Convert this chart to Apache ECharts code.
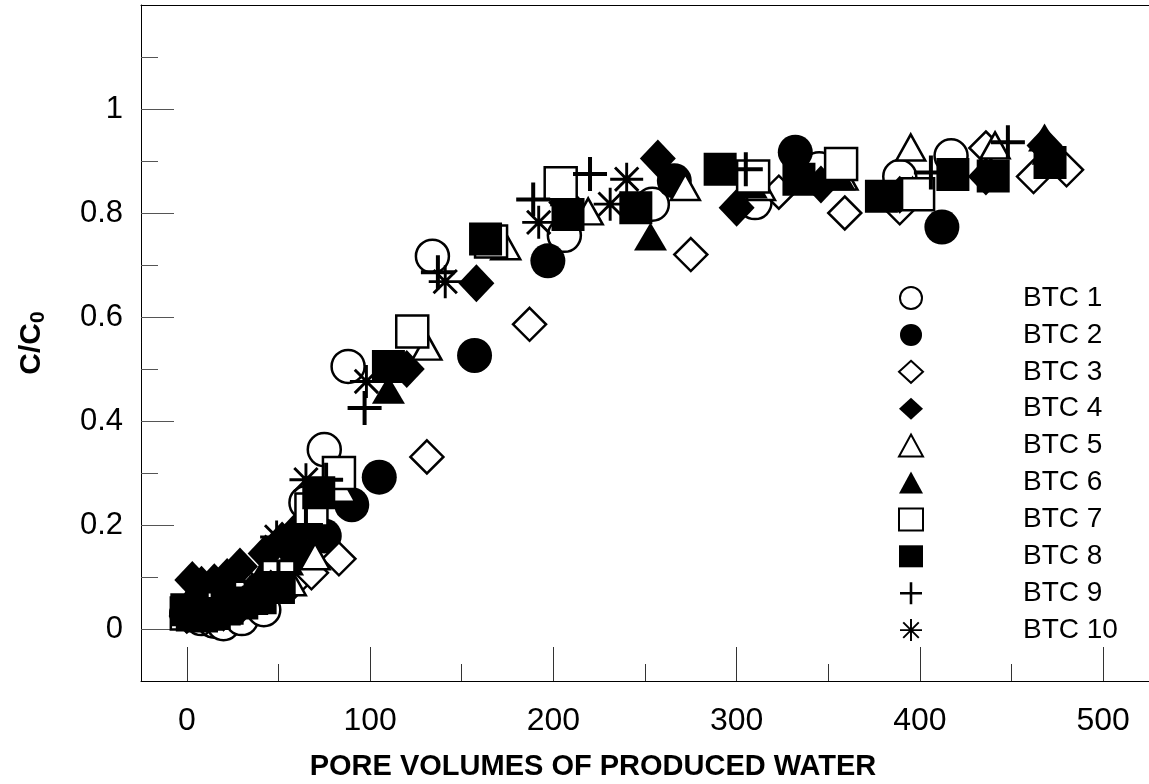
<!DOCTYPE html>
<html>
<head>
<meta charset="utf-8">
<script src="https://cdn.jsdelivr.net/npm/echarts@6/dist/echarts.min.js"></script>
<style>
html,body{margin:0;padding:0;background:#fff;}
#chart{width:1149px;height:784px;}
</style>
</head>
<body>
<div id="chart"></div>
<script>
// ---- data (x = pore volumes, y = C/C0) ----
const seriesNames = ['BTC 1','BTC 2','BTC 3','BTC 4','BTC 5','BTC 6','BTC 7','BTC 8','BTC 9','BTC 10'];
const btc1 = [[0,0.03],[8,0.02],[15,0.015],[20,0.01],[30,0.02],[42,0.037],[55,0.12],[62,0.16],[65,0.243],[75,0.345],[88,0.505],[134,0.717],[206,0.757],[254,0.817],[310,0.82],[345,0.885],[389,0.87],[417,0.91]];
const btc2 = [[0,0.03],[10,0.035],[20,0.04],[30,0.055],[40,0.075],[50,0.1],[60,0.146],[75,0.179],[90,0.239],[105,0.292],[157,0.526],[197,0.708],[266,0.862],[332,0.917],[412,0.773]];
const btc3 = [[0,0.025],[10,0.02],[20,0.03],[30,0.045],[45,0.07],[57,0.085],[68,0.108],[83,0.135],[131,0.331],[187,0.586],[275,0.72],[323,0.84],[359,0.80],[389,0.81],[436,0.925],[462,0.87],[480,0.883]];
const btc4 = [[3,0.094],[8,0.085],[15,0.09],[22,0.1],[29,0.12],[43,0.145],[52,0.17],[60,0.19],[120,0.5],[158,0.665],[207,0.82],[257,0.905],[300,0.81],[346,0.855],[389,0.835],[436,0.87],[468,0.93]];
const btc5 = [[0,0.04],[10,0.05],[20,0.06],[30,0.07],[45,0.08],[57,0.09],[70,0.14],[84,0.27],[131,0.543],[174,0.736],[219,0.803],[272,0.85],[313,0.85],[358,0.87],[395,0.926],[441,0.93],[470,0.92]];
const btc6 = [[0,0.05],[10,0.06],[20,0.07],[30,0.08],[40,0.1],[55,0.13],[70,0.2],[110,0.46],[207,0.84],[253,0.755],[308,0.855],[356,0.87],[396,0.845],[468,0.945]];
const btc7 = [[0,0.03],[10,0.03],[20,0.04],[35,0.06],[50,0.1],[68,0.23],[83,0.30],[123,0.572],[166,0.745],[204,0.857],[309,0.87],[357,0.894],[399,0.836]];
const btc8 = [[0,0.037],[3,0.027],[8,0.025],[15,0.03],[22,0.04],[30,0.05],[40,0.06],[50,0.08],[72,0.262],[110,0.505],[163,0.75],[208,0.797],[245,0.81],[291,0.884],[334,0.865],[379,0.832],[418,0.874],[440,0.871],[471,0.897]];
const btc9 = [[0,0.03],[10,0.04],[20,0.05],[35,0.07],[50,0.1],[65,0.2],[76,0.287],[97,0.425],[137,0.686],[189,0.826],[220,0.875],[305,0.884],[406,0.878],[448,0.936]];
const btc10 = [[0,0.03],[10,0.04],[25,0.06],[40,0.09],[49,0.177],[65,0.287],[98,0.476],[141,0.668],[192,0.782],[231,0.817],[240,0.865]];
const xMajorTicks = [0,100,200,300,400,500];
const xMinorTicks = [50,150,250,350,450];
const yMajorTicks = [0,0.2,0.4,0.6,0.8,1.0];
const yMinorTicks = [0.1,0.3,0.5,0.7,0.9,1.1];

// ---- symbols ----
const PLUS = 'path://M-2,-17L2,-17L2,-2L17,-2L17,2L2,2L2,17L-2,17L-2,2L-17,2L-17,-2L-2,-2Z';
const STAR = 'path://M-17,-1.5L17,-1.5L17,1.5L-17,1.5Z' +
  'M1.5,-17L1.5,17L-1.5,17L-1.5,-17Z' +
  'M-10.96,-13.08L13.08,10.96L10.96,13.08L-13.08,-10.96Z' +
  'M13.08,-10.96L-10.96,13.08L-13.08,10.96L10.96,-13.08Z';

const hollow = {color:'#fff', borderColor:'#000', borderWidth:2.5};
const solid = {color:'#000', borderColor:'#000', borderWidth:0};
const styles = [
  {data: btc1, symbol:'circle', size:33, item: hollow},
  {data: btc2, symbol:'circle', size:35, item: solid},
  {data: btc3, symbol:'diamond', size:33, item: hollow},
  {data: btc4, symbol:'diamond', size:[36,38], item: solid},
  {data: btc5, symbol:'triangle', size:[29,26], item: hollow},
  {data: btc6, symbol:'triangle', size:[33,28], item: solid},
  {data: btc7, symbol:'rect', size:32, item: hollow},
  {data: btc8, symbol:'rect', size:33, item: solid},
  {data: btc9, symbol:PLUS, size:34, item: solid},
  {data: btc10, symbol:STAR, size:33, item: solid}
];

const FONT = '"Liberation Sans", Arial, Helvetica, sans-serif';
const NARROW = '"Liberation Sans Narrow", "Liberation Sans", Arial, sans-serif';

const chart = echarts.init(document.getElementById('chart'), null, {renderer:'canvas'});
const baseX = {type:'value', min:-25, max:525, splitLine:{show:false}};
const baseY = {type:'value', min:-0.1, max:1.2, splitLine:{show:false}};

chart.setOption({
  backgroundColor:'#fff',
  animation:false,
  grid:{left:141, right:0, top:5, bottom:103, containLabel:false, outerBoundsMode:'none'},
  legend:{
    orient:'vertical', left:898, top:284, padding:0,
    itemWidth:24, itemHeight:22, itemGap:8.9,
    data: seriesNames,
    textStyle:{fontFamily:FONT, fontSize:28, color:'#000', padding:[0,0,0,95]},
    selectedMode:false
  },
  xAxis:[
    Object.assign({}, baseX, {
      position:'bottom',
      axisLine:{show:true, onZero:false, lineStyle:{color:'#000', width:1}},
      axisTick:{show:true, inside:true, length:34, customValues:xMajorTicks, lineStyle:{color:'#333'}},
      axisLabel:{customValues:xMajorTicks, fontFamily:NARROW, fontSize:32, color:'#000', margin:24},
      name:'PORE VOLUMES OF PRODUCED WATER', nameLocation:'middle', nameGap:71,
      nameTextStyle:{fontFamily:FONT, fontSize:29, fontWeight:'bold', color:'#000', padding:[0,104,0,0]}
    }),
    Object.assign({}, baseX, {
      position:'bottom',
      axisLine:{show:false, onZero:false},
      axisTick:{show:true, inside:true, length:17, customValues:xMinorTicks, lineStyle:{color:'#333'}},
      axisLabel:{show:false}
    }),
    Object.assign({}, baseX, {
      position:'top',
      axisLine:{show:true, onZero:false, lineStyle:{color:'#000', width:1}},
      axisTick:{show:false}, axisLabel:{show:false}
    })
  ],
  yAxis:[
    Object.assign({}, baseY, {
      position:'left',
      axisLine:{show:true, onZero:false, lineStyle:{color:'#000', width:1}},
      axisTick:{show:true, inside:true, length:33, customValues:yMajorTicks, lineStyle:{color:'#555'}},
      axisLabel:{customValues:yMajorTicks, fontFamily:FONT, fontSize:31, color:'#000', margin:18,
        formatter: v => String(+Number(v).toFixed(1))},
      name:'{a|C/C}{b|0}', nameLocation:'middle', nameGap:92,
      nameTextStyle:{rich:{
        a:{fontFamily:FONT, fontSize:30, fontWeight:'bold', color:'#000', lineHeight:34},
        b:{fontFamily:FONT, fontSize:21, fontWeight:'bold', color:'#000', verticalAlign:'bottom', lineHeight:34, padding:[10,0,0,0]}
      }}
    }),
    Object.assign({}, baseY, {
      position:'left',
      axisLine:{show:false, onZero:false},
      axisTick:{show:true, inside:true, length:17, customValues:yMinorTicks, lineStyle:{color:'#555'}},
      axisLabel:{show:false}
    })
  ],
  series: styles.map((s, i) => ({
    name: seriesNames[i],
    type:'scatter',
    xAxisIndex:0, yAxisIndex:0,
    data: s.data,
    symbol: s.symbol,
    symbolSize: s.size,
    itemStyle: Object.assign({opacity:1}, s.item),
    emphasis:{disabled:true},
    clip:false
  }))
});
</script>
</body>
</html>
